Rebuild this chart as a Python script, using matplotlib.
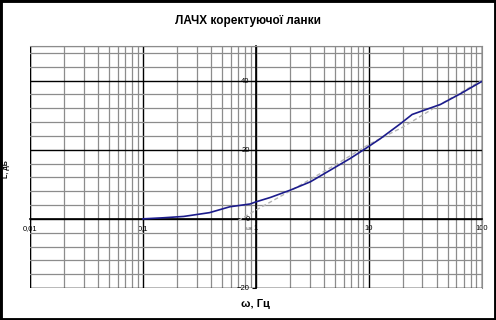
import matplotlib.pyplot as plt
import numpy as np
from matplotlib.patches import Rectangle
from matplotlib.ticker import FixedLocator, NullFormatter

plt.rcParams['font.family'] = ['Liberation Sans', 'DejaVu Sans']

# measured LAFR of the corrective link
freq = [0.1, 0.15, 0.23, 0.39, 0.59, 0.89, 1.0, 1.35, 2.02, 3.04, 4.58, 6.89,
        9.36, 12.7, 19.1, 24.3, 43.3, 65.1, 100]
gain = [0, 0.3, 0.7, 1.8, 3.5, 4.3, 4.9, 6.2, 8.3, 10.7, 14.1, 17.5,
        20.3, 23.2, 27.5, 30.2, 33.1, 36.2, 39.7]

# asymptotic approximation
asym_freq = [0.7, 1.0, 2.0, 5.0, 10.0, 20.0, 40.0, 100.0]
asym_gain = [-0.5, 2.5, 8.0, 15.5, 21.5, 26.5, 32.5, 40.0]

xticks = [0.01, 0.1, 1, 10, 100]
xlabels = ['0,01', '0,1', '1', '10', '100']
yticks = [-20, 0, 20, 40]

fig = plt.figure(figsize=(4.96, 3.20), dpi=100)
ax = fig.add_axes([30 / 496, 32 / 320, 451.5 / 496, 242 / 320])

ax.set_xscale('log')
ax.set_xlim(0.01, 100)
ax.set_ylim(-20, 50)

ax.xaxis.set_major_locator(FixedLocator(xticks))
ax.set_xticklabels(xlabels)
minor_x = [m * 10.0 ** e for e in range(-2, 2) for m in range(2, 10)]
ax.xaxis.set_minor_locator(FixedLocator(minor_x))
ax.xaxis.set_minor_formatter(NullFormatter())
ax.yaxis.set_major_locator(FixedLocator(yticks))
ax.yaxis.set_minor_locator(FixedLocator(list(range(-20, 50, 4))))

ax.grid(which='minor', color='#8c8c8c', lw=0.9)
ax.grid(which='major', color='black', lw=1)
ax.set_axisbelow(True)

ax.spines['left'].set_position(('data', 1))
ax.spines['bottom'].set_position(('data', 0))
for s in ['left', 'bottom']:
    ax.spines[s].set_color('black')
    ax.spines[s].set_linewidth(1.2)
for s in ['top', 'right']:
    ax.spines[s].set_color('#8c8c8c')
ax.add_patch(Rectangle((0, 0), 1, 1, transform=ax.transAxes, fill=False,
                       ec='#8c8c8c', lw=1, zorder=0.5))

ax.tick_params(which='major', length=3, width=0.8, labelsize=5.5, pad=1.5)
ax.tick_params(which='minor', length=0)

ax.plot(asym_freq, asym_gain, color='#b4b4b4', lw=1, ls=(0, (3, 2)), zorder=3)
ax.plot(freq, gain, color='#1c1c8c', lw=1.2, zorder=4)

ax.text(0.88, -2.2, 'ωж', fontsize=3.5, color='#555555', ha='center', va='top')

fig.suptitle('ЛАЧХ коректуючої ланки', x=0.5, y=0.952, fontsize=8.5,
             fontweight='bold')
fig.text(0.515, 0.05, 'ω, Гц', ha='center', va='center', fontsize=8,
         fontweight='bold')
fig.text(7 / 496, 0.47, 'L, дБ', ha='center', va='center', fontsize=5,
         rotation=90, fontweight='bold')

fig.patches.append(Rectangle((0, 0), 1, 1, transform=fig.transFigure,
                             fill=False, ec='black', lw=3.5, zorder=10))

fig.savefig('out.png', dpi=100)
